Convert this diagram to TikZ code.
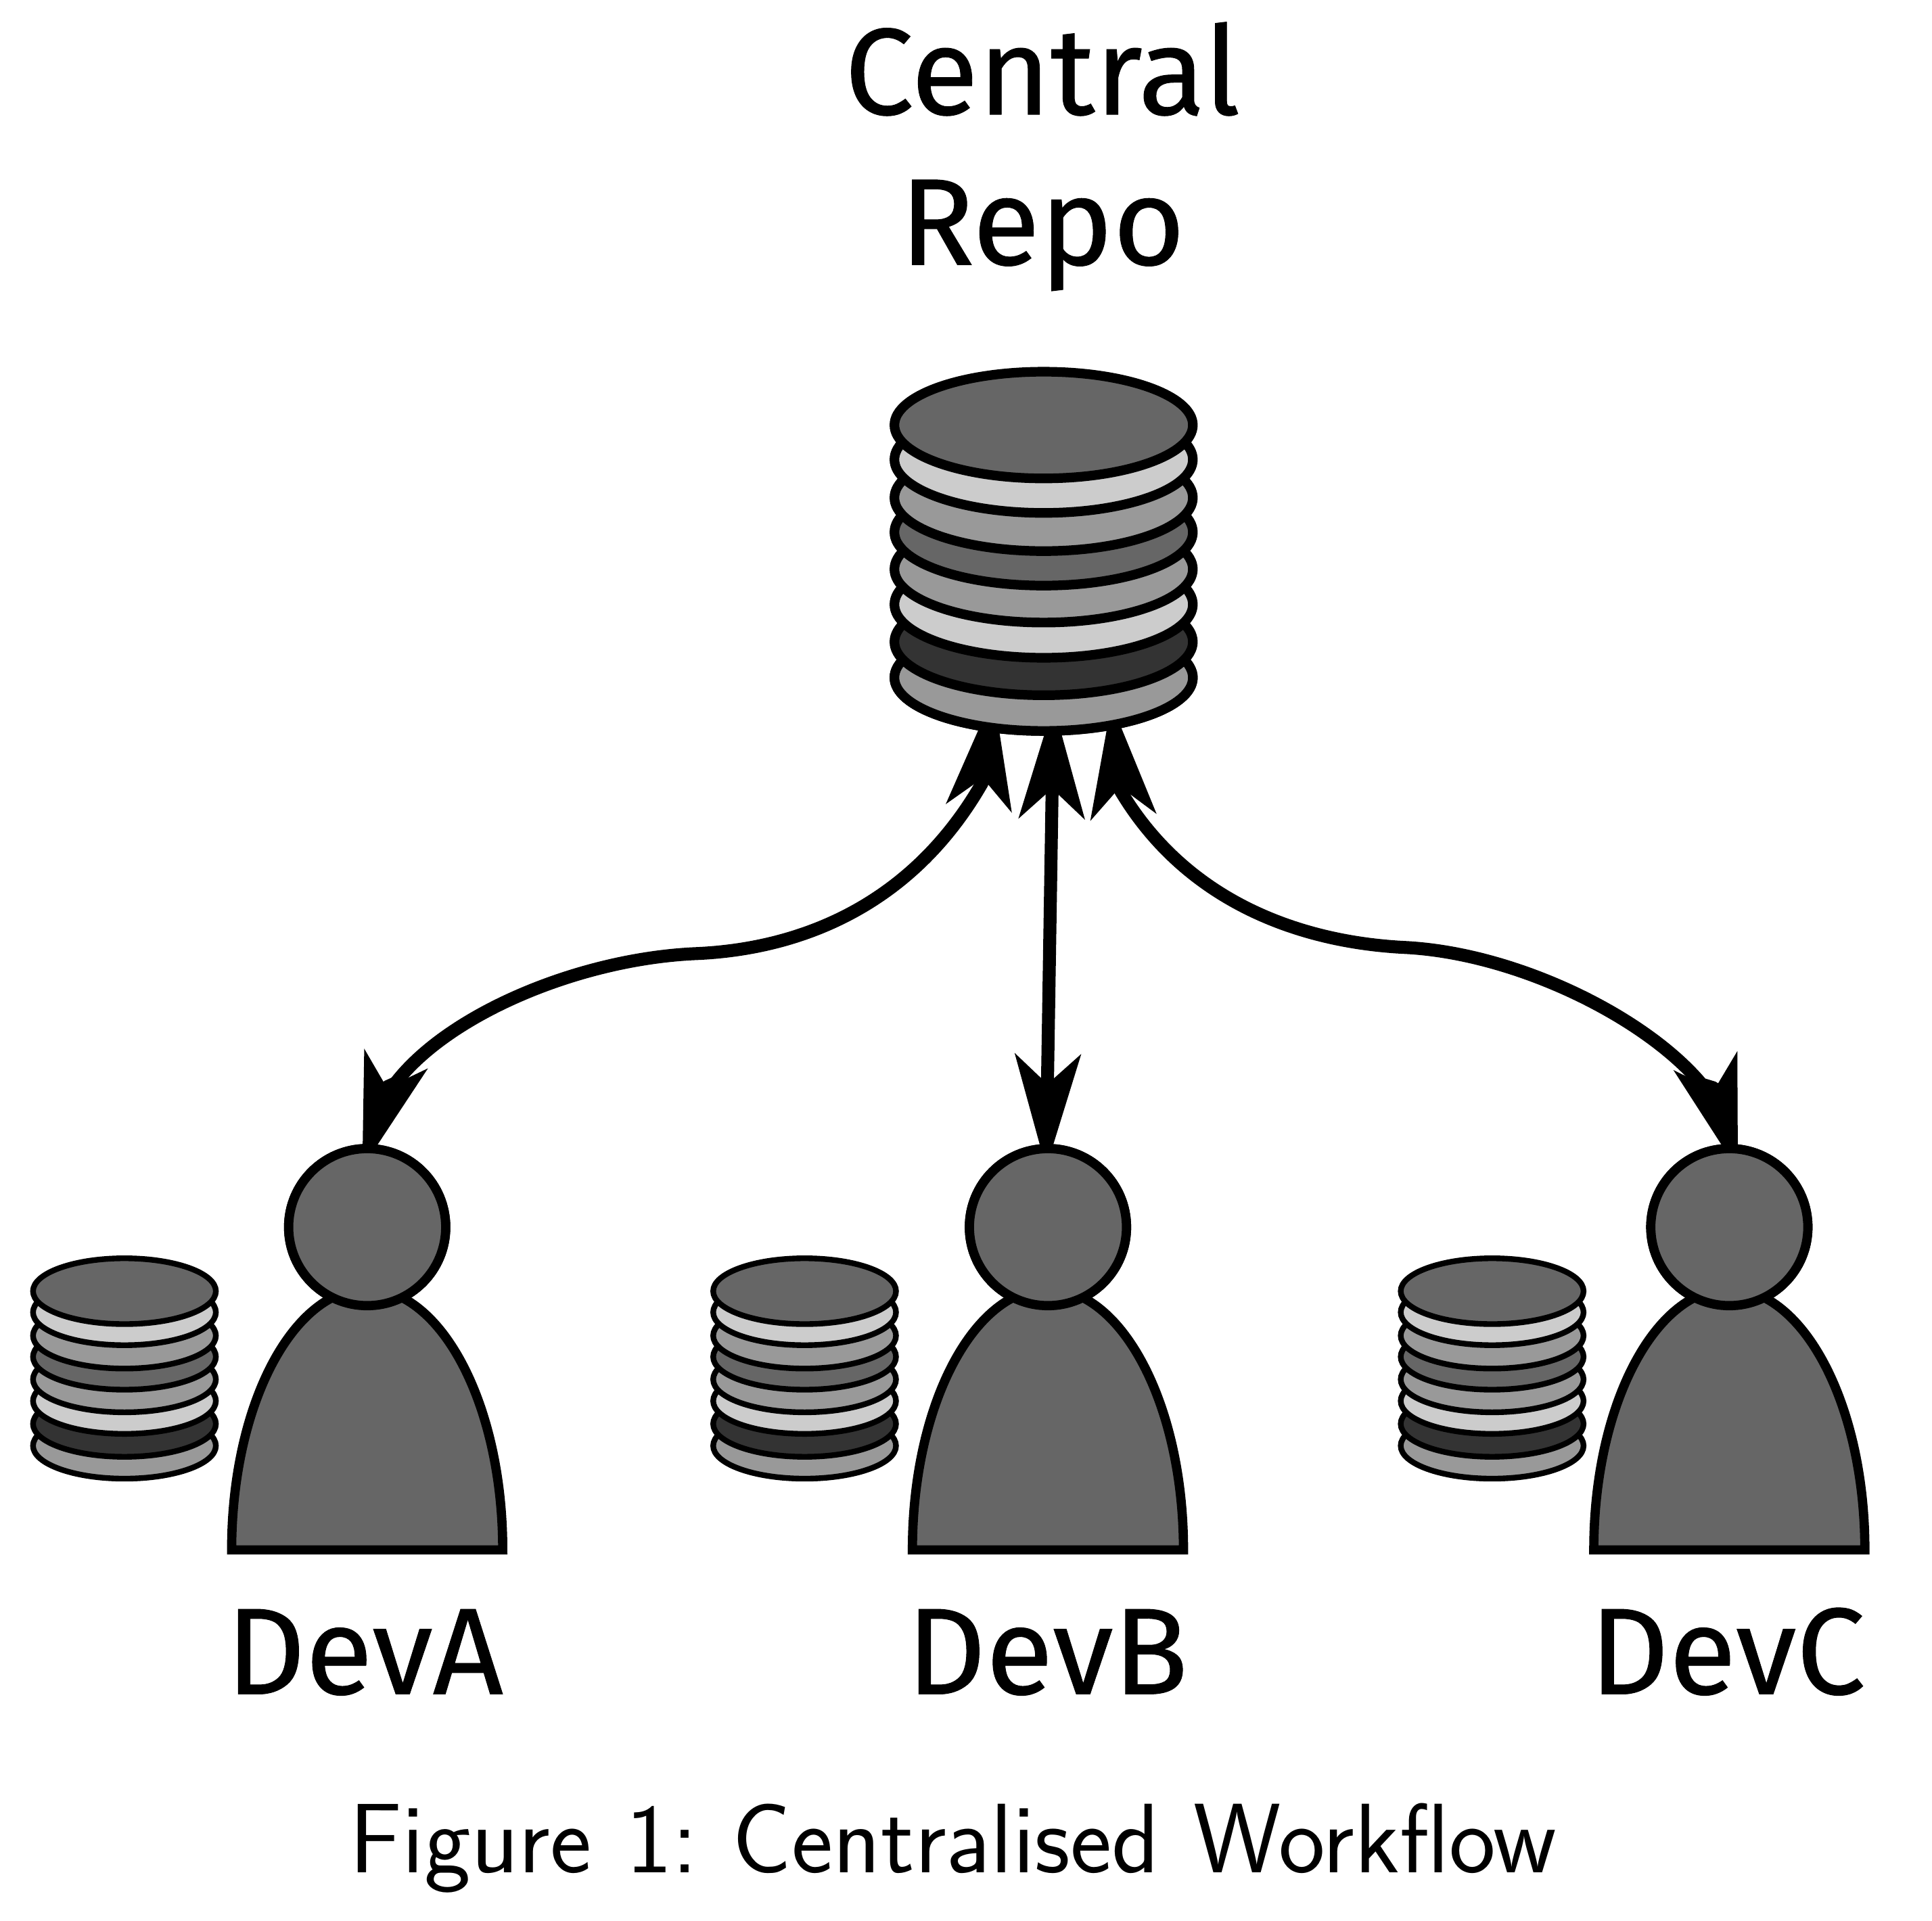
\documentclass[tikz,border=0pt]{standalone}
\usepackage{fontspec}
\newfontfamily\labfont[FakeBold=0.5]{Fira Sans}
\usetikzlibrary{arrows.meta,shapes.geometric}
\definecolor{gA}{HTML}{666666}
\definecolor{gB}{HTML}{CCCCCC}
\definecolor{gC}{HTML}{999999}
\definecolor{gD}{HTML}{333333}
\tikzset{
  disk/.style={ellipse,draw=black,inner sep=0pt,outer sep=0pt},
  bigdisk/.style={disk,line width=7.8pt,minimum width=242.2pt,minimum height=86.6pt},
  smalldisk/.style={disk,line width=4.6pt,minimum width=148.4pt,minimum height=53.4pt},
  headshape/.style={circle,draw=black,fill=gA,line width=7.5pt,inner sep=0pt,outer sep=0pt,minimum size=127.5pt},
  bodyshape/.style={draw=black,fill=gA,line width=7.5pt,miter limit=10},
  conn/.style={draw=black,line width=10.5pt,line join=round,{Stealth[length=92pt,width=53pt,inset=24pt]}-{Stealth[length=92pt,width=53pt,inset=24pt]}},
  bigtext/.style={font=\labfont\fontsize{100}{122}\selectfont,inner sep=0pt},
  captext/.style={font=\sffamily\fontsize{17.28}{20}\selectfont,scale=4.64,inner sep=0pt}
}
\newcommand{\dbstack}[5]{% name, x, y, style, factor
  \foreach \i/\off/\col in {7/205/gC,6/176/gD,5/145.6/gB,4/117/gC,3/87/gA,2/59/gC,1/28/gB,0/0/gA}{
    \node[#4,fill=\col] (#1\i) at (#2,{#3+\off*#5}) {};
  }
}
\newcommand{\person}[2]{% name, x
  \draw[bodyshape,shift={(#2,0)}] (-110,1258) .. controls (-110,1140) and (-60,1046) .. (0,1046)
     .. controls (60,1046) and (110,1140) .. (110,1258) -- cycle;
  \node[headshape] (#1) at (#2,996) {};
}
\begin{document}
\begin{tikzpicture}[x=1pt,y=-1pt]
\useasboundingbox (0,0) rectangle (1568,1558.7);
% anchor nodes for connectors are defined first, drawn over afterwards
\node[bigdisk] (repoanchor) at (847,550) {};
\node[headshape] (headAanchor) at (298,996) {};
\node[headshape] (headBanchor) at (850.5,996) {};
\node[headshape] (headCanchor) at (1403.5,996) {};
% connectors
\draw[conn] ([shift={(-4,-48)}]headAanchor.center) -- (314.4,882) -- (321,879)
   .. controls (365,822) and (472,778) .. (565,774)
   .. controls (650,770.3) and (740,735) .. (797.1,635.5)
   -- ([shift={(-40.5,14)}]repoanchor.center);
\draw[conn] ([shift={(-1.5,-48)}]headBanchor.center) -- ([shift={(8,22)}]repoanchor.center);
\draw[conn] ([shift={(7,-46)}]headCanchor.center) -- (1390.6,882.9) -- (1381,880)
   .. controls (1335,825) and (1230,773.5) .. (1140,769)
   .. controls (1060,765) and (965,735) .. (909.5,642)
   -- ([shift={(55,21)}]repoanchor.center);
% central repo
\dbstack{repo}{847}{345}{bigdisk}{1}
% people
\person{headA}{298}
\person{headB}{850.5}
\person{headC}{1403.5}
% local repos
\dbstack{localA}{101}{1048}{smalldisk}{0.612}
\dbstack{localB}{653}{1048}{smalldisk}{0.612}
\dbstack{localC}{1211}{1048}{smalldisk}{0.612}
% labels
\node[bigtext,align=center] (title) at (846,127) {Central\\Repo};
\node[bigtext,anchor=base] (devA) at (296,1375) {DevA};
\node[bigtext,anchor=base] (devB) at (850,1375) {DevB};
\node[bigtext,anchor=base] (devC) at (1402,1375) {DevC};
\node[captext,anchor=base] (caption) at (773.5,1520) {Figure\hspace{0.6pt} 1:\ \hspace{0.6pt}Centralised\hspace{0.6pt} Workflow};
\end{tikzpicture}
\end{document}
